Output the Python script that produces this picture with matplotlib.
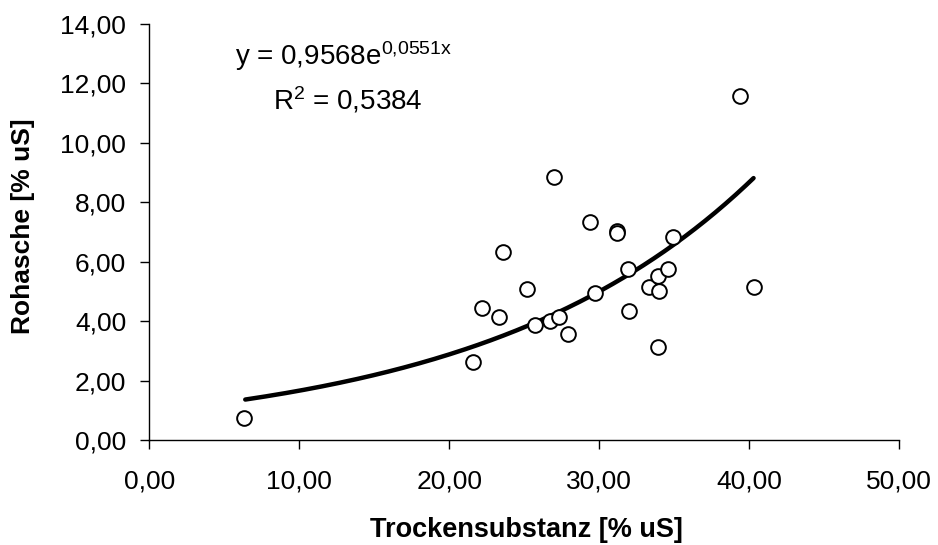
import numpy as np
import matplotlib
matplotlib.use("Agg")
import matplotlib.pyplot as plt
from matplotlib.ticker import FuncFormatter, MultipleLocator

# Data
trockensubstanz = [6.3, 21.6, 22.2, 23.3, 23.6, 25.2, 25.7, 26.7, 27.0, 27.3,
                   27.9, 29.4, 29.7, 31.2, 31.2, 31.9, 32.0, 33.3, 33.9, 33.9,
                   34.0, 34.6, 34.9, 39.4, 40.3]
rohasche = [0.75, 2.64, 4.43, 4.15, 6.32, 5.09, 3.87, 4.02, 8.84, 4.15,
            3.58, 7.33, 4.94, 7.03, 6.98, 5.76, 4.35, 5.16, 5.52, 3.14,
            5.01, 5.74, 6.82, 11.59, 5.16]

# Exponential trend line coefficients (as displayed)
coef_a = 0.9568
coef_b = 0.0551
r_squared = 0.5384

plt.rcParams['font.family'] = ['Liberation Sans', 'DejaVu Sans']
plt.rcParams['mathtext.fontset'] = 'custom'
plt.rcParams['mathtext.rm'] = 'Liberation Sans'
plt.rcParams['mathtext.it'] = 'Liberation Sans'
plt.rcParams['mathtext.bf'] = 'Liberation Sans:bold'

FS = 19
W, H = 938, 545
fig = plt.figure(figsize=(W / 100, H / 100), dpi=100)
ax = fig.add_axes([149.3 / W, 1 - 440 / H, (899 - 149.3) / W, (440 - 24) / H])

x = np.array(trockensubstanz)
y = np.array(rohasche)
ax.scatter(x, y, s=112, facecolors='white', edgecolors='black', linewidths=1.4, zorder=3)

xt = np.linspace(x.min() + 0.1, x.max(), 200)
ax.plot(xt, coef_a * np.exp(coef_b * xt), color='black', lw=3.2, zorder=2,
        solid_capstyle='round')

ax.set_xlim(0, 50)
ax.set_ylim(0, 14)
ax.xaxis.set_major_locator(MultipleLocator(10))
ax.yaxis.set_major_locator(MultipleLocator(2))
fmt = FuncFormatter(lambda v, p: f"{v:.2f}".replace('.', ','))
ax.xaxis.set_major_formatter(fmt)
ax.yaxis.set_major_formatter(fmt)

for s in ['top', 'right']:
    ax.spines[s].set_visible(False)
for s in ['left', 'bottom']:
    ax.spines[s].set_linewidth(1.0)
ax.tick_params(direction='out', length=6.25, width=1.0, labelsize=FS)
ax.tick_params(axis='x', pad=15)
ax.tick_params(axis='y', pad=10.4)

fig.text(526 / W, 8.3 / H, 'Trockensubstanz [% uS]', fontsize=FS + 0.5, fontweight='bold',
         ha='center', va='baseline')
fig.text(23 / W, 1 - 226 / H, 'Rohasche [% uS]', fontsize=FS, fontweight='bold',
         ha='center', va='center', rotation=90)

eq = 'y = %se$^{%sx}$' % (f"{coef_a:.4f}".replace('.', ','),
                          f"{coef_b:.4f}".replace('.', '{,}'))
r2 = 'R$^{2}$ = %s' % f"{r_squared:.4f}".replace('.', ',')
ax.text(5.72, 12.62, eq, fontsize=20, ha='left', va='baseline')
ax.text(8.27, 11.11, r2, fontsize=20, ha='left', va='baseline')

fig.savefig('out.png', dpi=100)
